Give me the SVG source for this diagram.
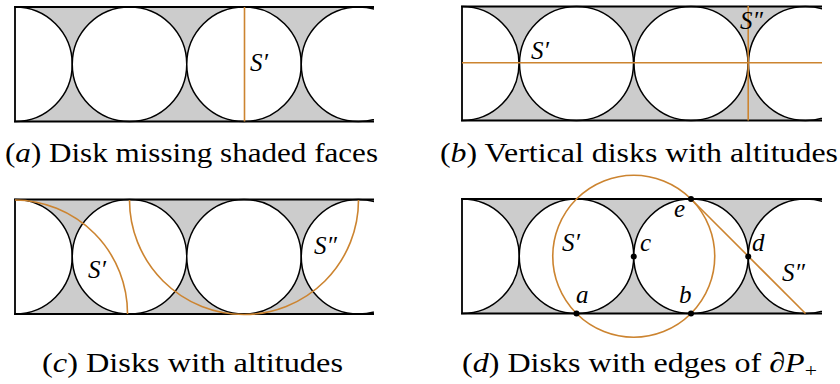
<svg xmlns="http://www.w3.org/2000/svg" width="840" height="384" viewBox="0 0 840 384">
<style>
.bg{fill:#cccccc;stroke:none}
.disk{fill:#ffffff;stroke:#000000;stroke-width:1.5}
.edge{stroke:#000000;stroke-width:1.8;fill:none}
.alt{stroke:#CC8430;stroke-width:1.6;fill:none}
.lbl{font-family:"Liberation Serif","DejaVu Serif",serif;font-style:italic;font-size:25px;fill:#000}
.cap{font-family:"Liberation Serif","DejaVu Serif",serif;font-size:28px;fill:#000}
.it{font-style:italic}
.pt{fill:#000}
</style>
<defs>
<clipPath id="ca"><rect x="14" y="0" width="360" height="130"/></clipPath>
<clipPath id="cb"><rect x="461" y="0" width="361" height="130"/></clipPath>
<clipPath id="cc"><rect x="14" y="190" width="360" height="130"/></clipPath>
<clipPath id="cd"><rect x="461" y="190" width="361" height="130"/></clipPath>
</defs>

<g id="panel-a">
<g clip-path="url(#ca)">
<rect class="bg" x="15" y="7" width="360" height="114.5"/>
<circle class="disk" cx="15" cy="64.25" r="57.25"/>
<circle class="disk" cx="129.5" cy="64.25" r="57.25"/>
<circle class="disk" cx="244" cy="64.25" r="57.25"/>
<circle class="disk" cx="358.5" cy="64.25" r="57.25"/>
<path class="edge" d="M375,7 H15 V121.5 H375"/>
</g>
<line class="alt" x1="244.5" y1="7" x2="244.5" y2="121.5"/>
<text class="lbl" x="250" y="71">S′</text>
<text class="cap" x="5" y="162" textLength="373" lengthAdjust="spacingAndGlyphs">(<tspan class="it">a</tspan>) Disk missing shaded faces</text>
</g>

<g id="panel-b">
<g clip-path="url(#cb)">
<rect class="bg" x="462" y="6.5" width="361" height="114"/>
<circle class="disk" cx="462" cy="63.5" r="57"/>
<circle class="disk" cx="576.5" cy="63.5" r="57"/>
<circle class="disk" cx="691" cy="63.5" r="57"/>
<circle class="disk" cx="805.5" cy="63.5" r="57"/>
<path class="edge" d="M823,6.5 H462 V120.5 H823"/>
</g>
<line class="alt" x1="462" y1="62.7" x2="822" y2="62.7"/>
<line class="alt" x1="748.2" y1="6" x2="748.2" y2="120.5"/>
<text class="lbl" x="531" y="59">S′</text>
<text class="lbl" x="740" y="29">S″</text>
<text class="cap" x="440" y="162" textLength="398" lengthAdjust="spacingAndGlyphs">(<tspan class="it">b</tspan>) Vertical disks with altitudes</text>
</g>

<g id="panel-c">
<g clip-path="url(#cc)">
<rect class="bg" x="15" y="199.5" width="360" height="114.5"/>
<circle class="disk" cx="15" cy="256.75" r="57.25"/>
<circle class="disk" cx="129.5" cy="256.75" r="57.25"/>
<circle class="disk" cx="244" cy="256.75" r="57.25"/>
<circle class="disk" cx="358.5" cy="256.75" r="57.25"/>
<path class="edge" d="M375,199.5 H15 V314 H375"/>
</g>
<path class="alt" d="M15,200 A113.5,113.5 0 0 1 127.5,314"/>
<path class="alt" d="M129.5,200 A114.5,114.5 0 0 0 358.5,200"/>
<text class="lbl" x="88" y="278">S′</text>
<text class="lbl" x="314" y="254">S″</text>
<text class="cap" x="42" y="372" textLength="301" lengthAdjust="spacingAndGlyphs">(<tspan class="it">c</tspan>) Disks with altitudes</text>
</g>

<g id="panel-d">
<g clip-path="url(#cd)">
<rect class="bg" x="462" y="199" width="361" height="114.5"/>
<circle class="disk" cx="462" cy="256.25" r="57.25"/>
<circle class="disk" cx="576.5" cy="256.25" r="57.25"/>
<circle class="disk" cx="691" cy="256.25" r="57.25"/>
<circle class="disk" cx="805.5" cy="256.25" r="57.25"/>
<path class="edge" d="M823,199 H462 V313.5 H823"/>
</g>
<circle class="alt" cx="633.75" cy="256.25" r="81"/>
<line class="alt" x1="691" y1="199" x2="805.5" y2="313.5"/>
<circle class="pt" cx="576.5" cy="313.5" r="3"/>
<circle class="pt" cx="691" cy="313.5" r="3"/>
<circle class="pt" cx="691" cy="199" r="3"/>
<circle class="pt" cx="633.75" cy="256.5" r="3"/>
<circle class="pt" cx="748.25" cy="256.5" r="3"/>
<text class="lbl" x="562" y="251">S′</text>
<text class="lbl" x="640" y="251">c</text>
<text class="lbl" x="674" y="217">e</text>
<text class="lbl" x="752" y="251">d</text>
<text class="lbl" x="576" y="303">a</text>
<text class="lbl" x="679" y="303">b</text>
<text class="lbl" x="782" y="281">S″</text>
<text class="cap" x="462" y="372" textLength="355" lengthAdjust="spacingAndGlyphs">(<tspan class="it">d</tspan>) Disks with edges of ∂<tspan class="it">P</tspan><tspan dy="5" font-size="19">+</tspan></text>
</g>
</svg>
